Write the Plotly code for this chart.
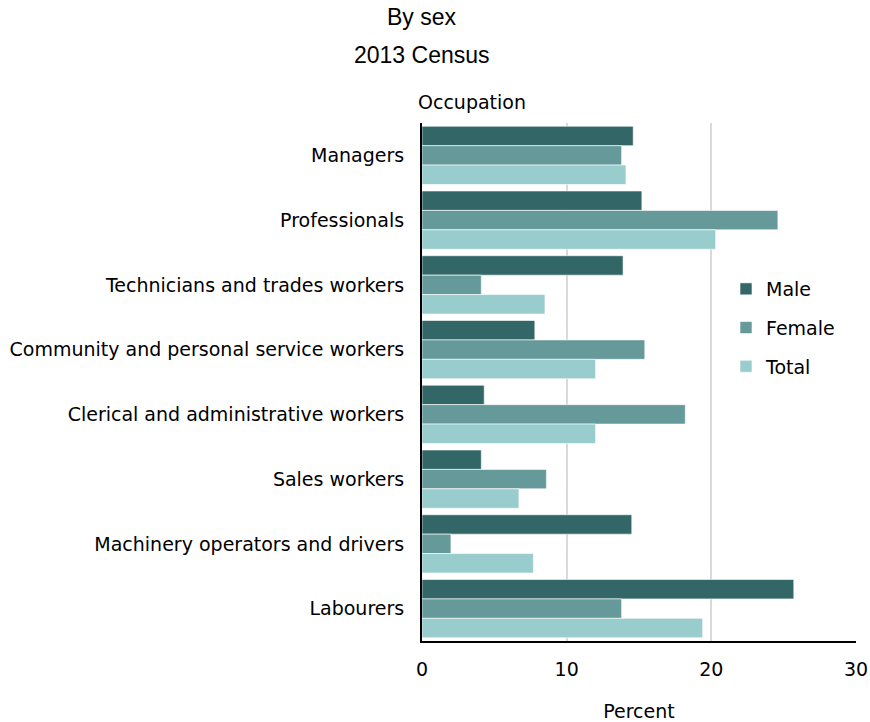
import plotly.graph_objects as go

categories = ["Managers", "Professionals", "Technicians and trades workers",
              "Community and personal service workers", "Clerical and administrative workers",
              "Sales workers", "Machinery operators and drivers", "Labourers"]
male = [14.6, 15.2, 13.9, 7.8, 4.3, 4.1, 14.5, 25.7]
female = [13.8, 24.6, 4.1, 15.4, 18.2, 8.6, 2.0, 13.8]
total = [14.1, 20.3, 8.5, 12.0, 12.0, 6.7, 7.7, 19.4]
x_ticks = [0, 10, 20, 30]

series = [("Male", male, "#336666"), ("Female", female, "#669999"), ("Total", total, "#99CCCC")]

fig = go.Figure()
for name, vals, col in series:
    fig.add_trace(go.Bar(
        y=categories, x=vals, name=name, orientation="h",
        marker=dict(color=col, line=dict(color="rgba(255,255,255,0.6)", width=1)),
        legendgroup=name,
    ))

title_font = "Liberation Sans, Arial, sans-serif"
label_font = "DejaVu Sans, Verdana, sans-serif"
L, R, T, B = 422, 14, 123, 81
H = 722 - T - B
W = 870 - L - R

fig.update_layout(
    width=870, height=722,
    margin=dict(l=L, r=R, t=T, b=B, autoexpand=False),
    plot_bgcolor="white", paper_bgcolor="white",
    barmode="group", bargap=0.1, bargroupgap=0,
    font=dict(family=label_font, size=19, color="#000000"),
    legend=dict(x=(726 - L) / W, y=1 - (270 - T) / H, xanchor="left", yanchor="top",
                font=dict(family=label_font, size=19), tracegroupgap=11, itemwidth=30,
                bgcolor="rgba(0,0,0,0)"),
    showlegend=True,
)
fig.add_annotation(text="By sex", xref="paper", yref="paper", x=0,
                   y=1 + (T - 17) / H, showarrow=False,
                   font=dict(family=title_font, size=23), xanchor="center", yanchor="middle")
fig.add_annotation(text="2013 Census", xref="paper", yref="paper", x=0,
                   y=1 + (T - 55) / H, showarrow=False,
                   font=dict(family=title_font, size=23), xanchor="center", yanchor="middle")
fig.add_annotation(text="Occupation", xref="paper", yref="paper", x=(416 - L) / W,
                   y=1 + (T - 102) / H, showarrow=False,
                   font=dict(family=label_font, size=19), xanchor="left", yanchor="middle")

fig.update_xaxes(range=[0, 30], tickvals=x_ticks, showgrid=True, gridcolor="#d9d9d9", gridwidth=2,
                 showline=True, linecolor="#000000", linewidth=2, zeroline=False, automargin=False,
                 ticks="", ticklabelstandoff=10, tickfont=dict(size=19),
                 title=dict(text="Percent", font=dict(size=19), standoff=27))
fig.update_yaxes(autorange="reversed", showline=True, linecolor="#000000", linewidth=2, automargin=False,
                 ticks="", ticklabelstandoff=12, tickfont=dict(size=19), showgrid=False)

fig.write_html("out.html", config={"displayModeBar": False},
               post_script="document.body.style.margin='0px';")
